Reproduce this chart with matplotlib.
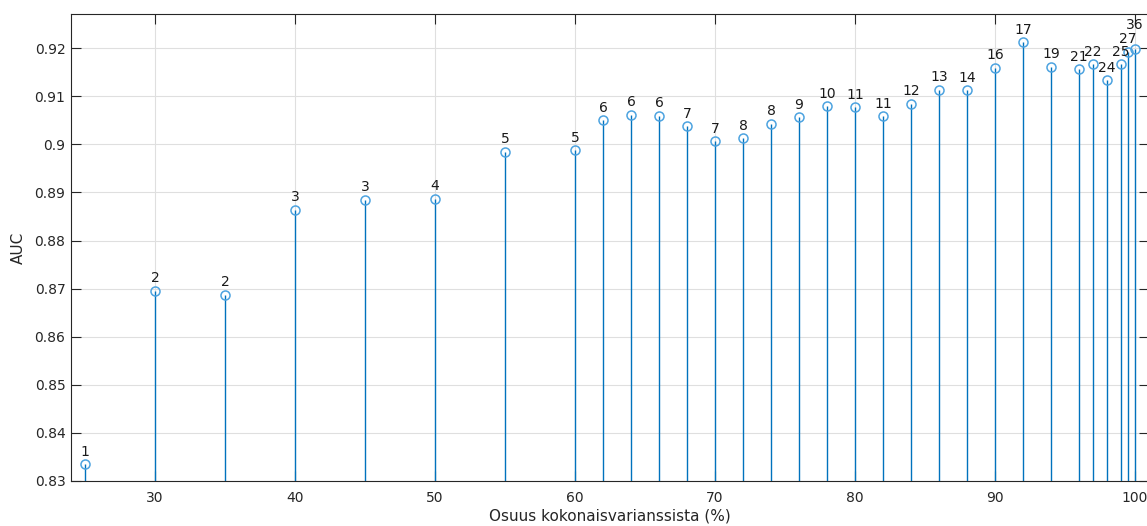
import matplotlib
matplotlib.use('Agg')
import matplotlib.pyplot as plt
from matplotlib.ticker import FuncFormatter

# Share of total variance (%) and the AUC reached with that many components
variance_pct = [25, 30, 35, 40, 45, 50, 55, 60, 62, 64, 66, 68, 70, 72, 74, 76, 78,
                80, 82, 84, 86, 88, 90, 92, 94, 96, 97, 98, 99, 99.5, 100]
auc = [0.8335, 0.8696, 0.8687, 0.8864, 0.8885, 0.8887, 0.8985, 0.8988, 0.9050,
       0.9061, 0.9059, 0.9038, 0.9006, 0.9013, 0.9043, 0.9056, 0.9079, 0.9077,
       0.9058, 0.9084, 0.9114, 0.9112, 0.9159, 0.9212, 0.9161, 0.9156, 0.9166,
       0.9133, 0.9166, 0.9192, 0.9198]
n_components = [1, 2, 2, 3, 3, 4, 5, 5, 6, 6, 6, 7, 7, 8, 8, 9, 10, 11, 11, 12,
                13, 14, 16, 17, 19, 21, 22, 24, 25, 27, 36]

x_ticks = [30, 40, 50, 60, 70, 80, 90, 100]
y_ticks = [0.83, 0.84, 0.85, 0.86, 0.87, 0.88, 0.89, 0.90, 0.91, 0.92]

blue = '#0072BD'
axis_gray = '#262626'

W, H = 1147, 526
fig = plt.figure(figsize=(W / 100, H / 100), dpi=100)
ax = fig.add_axes([71 / W, (H - 481) / H, (1149 - 71) / W, (481 - 14) / H])

markerline, stemlines, baseline = ax.stem(variance_pct, auc, bottom=0, basefmt=' ')
plt.setp(stemlines, color=blue, linewidth=1.0)
plt.setp(markerline, marker='o', markersize=6.5, markerfacecolor='none',
         markeredgecolor='#4DA3E0', markeredgewidth=1.1)

for i, (x, y, n) in enumerate(zip(variance_pct, auc, n_components)):
    # last label sits higher so it clears the one next to it
    dy = 12 if i == len(auc) - 1 else 4
    ax.annotate(str(n), (x, y), xytext=(0, dy), textcoords='offset points',
                ha='center', va='bottom', fontsize=10, color='#1a1a1a')

ax.set_xlim(24, 101)
ax.set_ylim(0.83, 0.9271)
ax.set_xticks(x_ticks)
ax.set_yticks(y_ticks)
ax.yaxis.set_major_formatter(FuncFormatter(lambda v, p: '%g' % round(v, 2)))

ax.grid(True, color='#DFDFDF', linewidth=0.8)
ax.set_axisbelow(True)
ax.tick_params(direction='in', length=7, width=0.8, colors=axis_gray,
               labelsize=10, top=True, right=True)
ax.tick_params(axis='x', pad=7)
ax.tick_params(axis='y', pad=4)
for s in ax.spines.values():
    s.set_color(axis_gray)
    s.set_linewidth(0.8)

ax.set_xlabel('Osuus kokonaisvarianssista (%)', fontsize=11, color=axis_gray, labelpad=3)
ax.set_ylabel('AUC', fontsize=11, color=axis_gray, labelpad=6)

fig.savefig('out.png', dpi=100)
